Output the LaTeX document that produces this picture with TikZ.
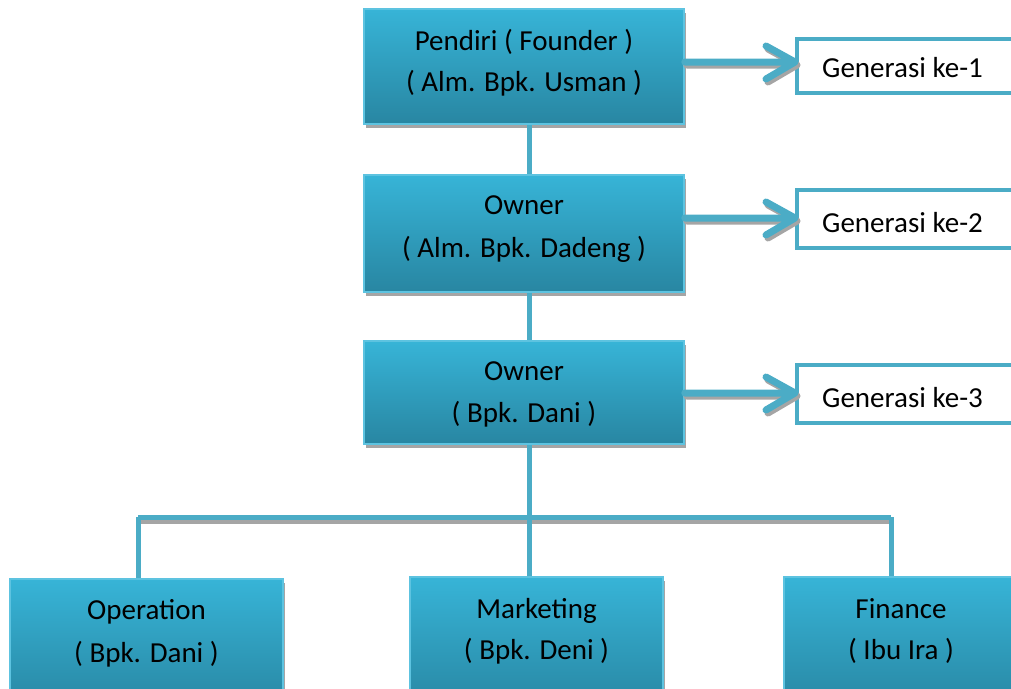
\documentclass[tikz,border=0pt]{standalone}
\usepackage{fontspec}
\setmainfont{Carlito}
\usetikzlibrary{shadows,calc}
\definecolor{boxtop}{HTML}{37B4D7}
\definecolor{boxbot}{HTML}{2886A2}
\definecolor{boxedge}{HTML}{5DC3E0}
\definecolor{linkblue}{HTML}{4BACC6}
\definecolor{shadegray}{HTML}{A5A5A5}
\tikzset{
  unit/.style={rectangle, draw=boxedge, line width=1.5pt, top color=boxtop,
    bottom color=boxbot, inner sep=0pt,
    general shadow={fill=shadegray, shadow xshift=2pt, shadow yshift=-4pt}},
  genbox/.style={rectangle, draw=linkblue, line width=4pt, fill=white, inner sep=0pt},
  txt/.style={font=\fontsize{29}{35}\selectfont, inner sep=0pt, anchor=base, text=black},
  gentxt/.style={txt, anchor=base west},
  linkline/.style={draw=linkblue, line width=5pt},
  linkshadow/.style={draw=shadegray, line width=5pt},
  genarrow/.style={draw=linkblue, line width=7pt, line cap=round, line join=round},
  genarrowshadow/.style={draw=shadegray, line width=7pt, line cap=round, line join=round,
    transform canvas={xshift=2pt, yshift=-3pt}},
}
\begin{document}
\begin{tikzpicture}[x=1pt, y=-1pt]
\useasboundingbox (0,0) rectangle (1011,688);
\clip (0,0) rectangle (1011,688);

% vertical links between the owner boxes (behind the boxes)
\coordinate (j1) at (529,120);
\coordinate (bar) at (529,517);

% top chain of owner boxes
\node[unit, minimum width=320, minimum height=115] (b1) at (524,66.5) {};
\node[unit, minimum width=320, minimum height=117] (b2) at (524,233.5) {};
\node[unit, minimum width=320, minimum height=103] (b3) at (524,392.5) {};

% bottom department boxes
\node[unit, minimum width=273, minimum height=132] (d1) at (146.5,645) {};
\node[unit, minimum width=253, minimum height=134] (d2) at (536.5,644) {};
\node[unit, minimum width=234, minimum height=134] (d3) at (901,644) {};

% links between boxes
\draw[linkline] ([xshift=5pt]b1.south) -- ([xshift=5pt]b2.north);
\draw[linkline] ([xshift=5pt]b2.south) -- ([xshift=5pt]b3.north);
\draw[linkline] ([xshift=5pt]b3.south) -- (bar);

% horizontal distribution bar with its shadow
\coordinate (barL) at (138,517);
\coordinate (barR) at (891,517);
\draw[linkshadow] ([yshift=-4pt]barL) -- ([yshift=-4pt]barR);
\draw[linkline] (barL) -- (barR);
\draw[linkline] (barL) -- (barL |- d1.north);
\draw[linkline] (bar) -- (bar |- d2.north);
\draw[linkline] (barR) -- (barR |- d3.north);

% generation boxes
\node[genbox, minimum width=243, minimum height=54] (g1) at (918.5,66) {};
\node[genbox, minimum width=243, minimum height=58] (g2) at (918.5,219) {};
\node[genbox, minimum width=243, minimum height=58] (g3) at (918.5,394) {};

% arrow tips
\coordinate (a1) at (795,62);
\coordinate (a2) at (795,218);
\coordinate (a3) at (795,393);

\foreach \a/\b in {a1/b1, a2/b2, a3/b3}{
  \draw[genarrowshadow] (\b.east |- \a) -- (\a) ++(-29,-16) -- (\a) -- ++(-29,17);
  \draw[genarrow] (\b.east |- \a) -- (\a) ++(-29,-16) -- (\a) -- ++(-29,17);
}

% texts
\node[txt] (t1a) at (524,50) {Pendiri ( Founder )};
\node[txt] (t1b) at (524,91) {( Alm. Bpk. Usman )};
\node[txt] (t2a) at (524,214) {Owner};
\node[txt] (t2b) at (524,257) {( Alm. Bpk. Dadeng )};
\node[txt] (t3a) at (524,380) {Owner};
\node[txt] (t3b) at (524,422) {( Bpk. Dani )};

\node[txt] (t4a) at (146.5,619) {Operation};
\node[txt] (t4b) at (146.5,662) {( Bpk. Dani )};
\node[txt] (t5a) at (536.5,618) {Marketing};
\node[txt] (t5b) at (536.5,659) {( Bpk. Deni )};
\node[txt] (t6a) at (901,618) {Finance};
\node[txt] (t6b) at (901,659) {( Ibu Ira )};

\node[gentxt] (n1) at (822,77) {Generasi ke-1};
\node[gentxt] (n2) at (822,232) {Generasi ke-2};
\node[gentxt] (n3) at (822,407) {Generasi ke-3};
\end{tikzpicture}
\end{document}
